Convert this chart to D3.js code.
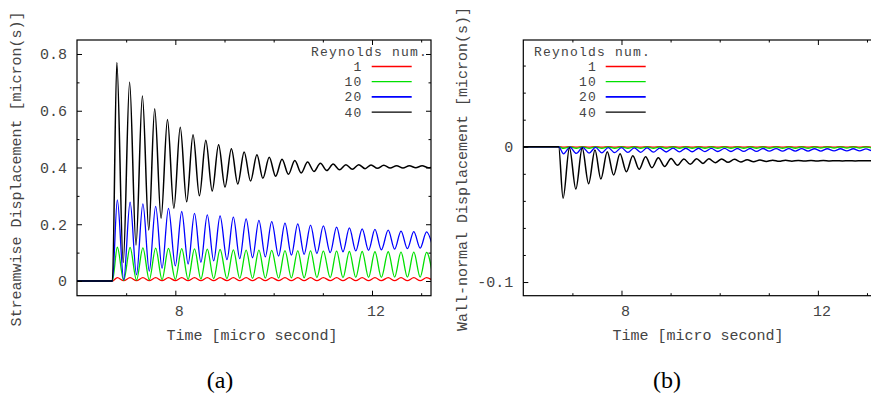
<!DOCTYPE html>
<html>
<head>
<meta charset="utf-8">
<script src="https://cdn.jsdelivr.net/npm/d3@7"></script>
<style>
  body { margin: 0; background: #fff; }
  svg text { font-family: "Liberation Mono", "Courier New", monospace; }
  .axis text { font-size: 15px; fill: #444; }
  .axis line { stroke: #000; }
  .title { font-size: 15px; fill: #444; }
  .legend text { font-size: 13px; letter-spacing: 1.2px; fill: #444; }
  .caption { font-family: "Liberation Serif", "Times New Roman", serif !important; font-size: 24px; fill: #000; }
</style>
</head>
<body>
<svg id="chart" width="871" height="399"></svg>
<script>
// extremum times (Re 40 and the other three runs)
var timeRe40 = [6.0, 6.72,
    6.81, 6.94, 7.07, 7.20, 7.33, 7.46, 7.58, 7.71, 7.84, 7.97,
    8.10, 8.23, 8.36, 8.49, 8.62, 8.75, 8.88, 9.01, 9.14, 9.27,
    9.40, 9.53, 9.66, 9.78, 9.91, 10.04, 10.17, 10.30, 10.43, 10.56,
    10.69, 10.82, 10.95, 11.08, 11.21, 11.34, 11.47, 11.60, 11.73, 11.86,
    11.98, 12.11, 12.24, 12.37, 12.50, 12.63, 12.76, 12.89, 13.02, 13.15,
    13.28];
var timeOther = [6.0, 6.72,
    6.82, 6.95, 7.08, 7.21, 7.34, 7.47, 7.60, 7.73, 7.86, 8.00,
    8.13, 8.26, 8.39, 8.52, 8.65, 8.78, 8.91, 9.05, 9.18, 9.31,
    9.44, 9.57, 9.70, 9.83, 9.96, 10.10, 10.23, 10.36, 10.49, 10.62,
    10.75, 10.88, 11.01, 11.15, 11.28, 11.41, 11.54, 11.67, 11.80, 11.93,
    12.06, 12.19, 12.33, 12.46, 12.59, 12.72, 12.85, 12.98, 13.11, 13.24];

// (a) streamwise displacement
var streamRe1 = [0, 0,
    0.012, 0.001, 0.012, 0.001, 0.012, 0.001, 0.012, 0.001, 0.012, 0.001,
    0.012, 0.001, 0.012, 0.001, 0.012, 0.001, 0.012, 0.001, 0.012, 0.001,
    0.012, 0.001, 0.012, 0.001, 0.012, 0.001, 0.012, 0.001, 0.012, 0.001,
    0.012, 0.001, 0.012, 0.001, 0.012, 0.001, 0.012, 0.001, 0.012, 0.001,
    0.012, 0.001, 0.012, 0.001, 0.012, 0.001, 0.012, 0.001, 0.012, 0.001];
var streamRe10 = [0, 0,
    0.119, 0.002, 0.118, 0.003, 0.117, 0.004, 0.116, 0.005, 0.115, 0.006,
    0.114, 0.006, 0.113, 0.007, 0.112, 0.008, 0.111, 0.008, 0.110, 0.009,
    0.109, 0.009, 0.109, 0.010, 0.108, 0.010, 0.107, 0.011, 0.106, 0.011,
    0.106, 0.012, 0.105, 0.012, 0.105, 0.012, 0.104, 0.013, 0.104, 0.013,
    0.103, 0.013, 0.103, 0.014, 0.102, 0.014, 0.102, 0.014, 0.101, 0.014];
var streamRe20 = [0, 0,
    0.286, 0.004, 0.278, 0.022, 0.272, 0.035, 0.263, 0.045, 0.256, 0.053,
    0.245, 0.060, 0.238, 0.066, 0.233, 0.071, 0.229, 0.075, 0.225, 0.079,
    0.219, 0.082, 0.214, 0.085, 0.209, 0.088, 0.204, 0.091, 0.201, 0.094,
    0.197, 0.097, 0.194, 0.100, 0.190, 0.103, 0.187, 0.106, 0.184, 0.108,
    0.182, 0.110, 0.179, 0.112, 0.176, 0.114, 0.174, 0.116, 0.173, 0.118];
var streamRe40 = [0, 0,
    0.770, 0.065, 0.700, 0.127, 0.652, 0.180, 0.607, 0.221, 0.569, 0.256,
    0.542, 0.279, 0.515, 0.300, 0.496, 0.317, 0.480, 0.331, 0.466, 0.342,
    0.455, 0.352, 0.445, 0.362, 0.436, 0.369, 0.429, 0.376, 0.425, 0.381,
    0.419, 0.386, 0.415, 0.389, 0.412, 0.392, 0.410, 0.394, 0.410, 0.396,
    0.409, 0.397, 0.408, 0.398, 0.406, 0.398, 0.406, 0.399, 0.406, 0.399,
    0.405];

// (b) wall-normal displacement
var wallRe1 = [0, 0,
    -0.0003, 0, -0.0003, 0, -0.0003, 0, -0.0003, 0, -0.0003, 0,
    -0.0003, 0, -0.0003, 0, -0.0003, 0, -0.0003, 0, -0.0003, 0,
    -0.0003, 0, -0.0003, 0, -0.0003, 0, -0.0003, 0, -0.0003, 0,
    -0.0003, 0, -0.0003, 0, -0.0003, 0, -0.0003, 0, -0.0003, 0,
    -0.0003, 0, -0.0003, 0, -0.0003, 0, -0.0003, 0, -0.0003, 0];
var wallRe10 = [0, 0,
    -0.0012, -0.0001, -0.0012, -0.0001, -0.0012, -0.0001, -0.0012, -0.0001, -0.0012, -0.0001,
    -0.0012, -0.0001, -0.0012, -0.0001, -0.0012, -0.0001, -0.0012, -0.0001, -0.0012, -0.0001,
    -0.0011, -0.0001, -0.0011, -0.0001, -0.0011, -0.0001, -0.0011, -0.0001, -0.0011, -0.0001,
    -0.0011, -0.0001, -0.0011, -0.0001, -0.0011, -0.0001, -0.0011, -0.0001, -0.0011, -0.0001,
    -0.0010, -0.0001, -0.0010, -0.0001, -0.0010, -0.0001, -0.0010, -0.0001, -0.0010, -0.0001];
var wallRe20 = [0, 0,
    -0.0052, -0.0003, -0.0049, -0.0004, -0.0047, -0.0005, -0.0045, -0.0006, -0.0043, -0.0007,
    -0.0042, -0.0008, -0.0041, -0.0009, -0.0040, -0.0010, -0.0039, -0.0010, -0.0038, -0.0011,
    -0.0037, -0.0011, -0.0036, -0.0012, -0.0035, -0.0012, -0.0035, -0.0013, -0.0034, -0.0013,
    -0.0034, -0.0013, -0.0033, -0.0014, -0.0033, -0.0014, -0.0032, -0.0014, -0.0032, -0.0015,
    -0.0032, -0.0015, -0.0031, -0.0015, -0.0031, -0.0015, -0.0031, -0.0016, -0.0030, -0.0016];
var wallRe40 = [0, 0,
    -0.0381, -0.0007, -0.0313, -0.0010, -0.0273, -0.0024, -0.0239, -0.0037, -0.0209, -0.0052,
    -0.0185, -0.0067, -0.0167, -0.0074, -0.0155, -0.0081, -0.0146, -0.0086, -0.0137, -0.0090,
    -0.0130, -0.0088, -0.0123, -0.0089, -0.0118, -0.0090, -0.0115, -0.0093, -0.0113, -0.0096,
    -0.0111, -0.0098, -0.0109, -0.0099, -0.0108, -0.0100, -0.0107, -0.0101, -0.0106, -0.0102,
    -0.0106, -0.0102, -0.0105, -0.0103, -0.0105, -0.0103, -0.0105, -0.0103, -0.0104, -0.0103,
    -0.0104];

var reynolds = ["1", "10", "20", "40"];
var colors = ["#ff0000", "#00e000", "#0000ff", "#000000"];

var xMajorTicks = [8, 12];
var xMinorTicks = [7, 9, 10, 11, 13];
var streamMajorTicks = [0, 0.2, 0.4, 0.6, 0.8];
var streamMinorTicks = [0.1, 0.3, 0.5, 0.7];
var wallMajorTicks = [-0.1, 0];
var wallMinorTicks = [-0.08, -0.06, -0.04, -0.02, 0.02, 0.04, 0.06];

var svg = d3.select("#chart");
svg.append("rect").attr("width", 871).attr("height", 399).attr("fill", "#fff");

function drawPanel(p) {
    var x = d3.scaleLinear().domain([6, 13.2]).range([p.left, p.right]);
    var y = d3.scaleLinear().domain(p.yDomain).range([p.bottom, p.top]);

    svg.append("clipPath")
        .attr("id", "clip-" + p.name)
        .append("rect")
        .attr("x", p.left)
        .attr("y", p.top)
        .attr("width", p.right - p.left)
        .attr("height", p.bottom - p.top);

    var line = d3.line()
        .x(d => x(d[0]))
        .y(d => y(d[1]))
        .curve(d3.curveMonotoneX);

    p.series.forEach(function(s, i) {
        svg.append("path")
            .datum(d3.zip(s.time, s.values))
            .attr("clip-path", "url(#clip-" + p.name + ")")
            .attr("fill", "none")
            .attr("stroke", colors[i])
            .attr("stroke-width", i == 3 ? 1.5 : 1.3)
            .attr("d", line);
    });

    function addAxis(axis, tx, ty, ticks, size, labels) {
        axis.tickValues(ticks).tickSizeInner(-size).tickSizeOuter(0);
        if (labels) axis.tickPadding(p.padding).tickFormat(d => String(d));
        else axis.tickFormat("");
        var g = svg.append("g")
            .attr("class", "axis")
            .attr("transform", `translate(${tx}, ${ty})`)
            .call(axis);
        g.select(".domain").remove();
        return g;
    }

    // bottom and top
    var bx = addAxis(d3.axisBottom(x), 0, p.bottom, xMajorTicks, 5, true);
    bx.selectAll("text").attr("dx", 3.5);
    addAxis(d3.axisBottom(x), 0, p.bottom, xMinorTicks, 2.5, false);
    addAxis(d3.axisTop(x), 0, p.top, xMajorTicks, 5, false);
    addAxis(d3.axisTop(x), 0, p.top, xMinorTicks, 2.5, false);
    // left and right
    addAxis(d3.axisLeft(y), p.left, 0, p.yMajor, 5, true);
    addAxis(d3.axisLeft(y), p.left, 0, p.yMinor, 2.5, false);
    addAxis(d3.axisRight(y), p.right, 0, p.yMajor, 5, false);
    addAxis(d3.axisRight(y), p.right, 0, p.yMinor, 2.5, false);

    svg.append("rect")
        .attr("x", p.left)
        .attr("y", p.top)
        .attr("width", p.right - p.left)
        .attr("height", p.bottom - p.top)
        .attr("fill", "none")
        .attr("stroke", "#000")
        .attr("stroke-width", 1.2);

    svg.append("text")
        .attr("class", "title")
        .attr("text-anchor", "middle")
        .attr("x", p.xTitleX)
        .attr("y", 340)
        .text("Time [micro second]");

    svg.append("text")
        .attr("class", "title")
        .attr("text-anchor", "middle")
        .attr("transform", `translate(${p.yTitleX}, 169) rotate(-90)`)
        .text(p.yTitle);

    // legend
    var lg = svg.append("g").attr("class", "legend");
    lg.append("text")
        .attr("x", p.legend.headX)
        .attr("y", 56)
        .attr("text-anchor", p.legend.headAnchor)
        .text("Reynolds num.");
    reynolds.forEach(function(r, i) {
        var ly = 66.5 + i * 15.2;
        lg.append("text")
            .attr("x", p.legend.numX)
            .attr("y", ly + 4.5)
            .attr("text-anchor", "end")
            .text(r);
        lg.append("line")
            .attr("x1", p.legend.lineX)
            .attr("x2", p.legend.lineX + 40)
            .attr("y1", ly)
            .attr("y2", ly)
            .attr("stroke", colors[i])
            .attr("stroke-width", i == 2 ? 1.8 : 1.3);
    });

    svg.append("text")
        .attr("class", "caption")
        .attr("text-anchor", "middle")
        .attr("x", p.captionX)
        .attr("y", 388)
        .text(p.caption);
}

drawPanel({
    name: "a",
    left: 77, right: 431, top: 40, bottom: 295.7,
    yDomain: [-0.0518, 0.8493],
    yMajor: streamMajorTicks, yMinor: streamMinorTicks,
    padding: 10,
    series: [
        {time: timeOther, values: streamRe1},
        {time: timeOther, values: streamRe10},
        {time: timeOther, values: streamRe20},
        {time: timeRe40, values: streamRe40}
    ],
    xTitleX: 252,
    yTitleX: 21,
    yTitle: "Streamwise Displacement [micron(s)]",
    legend: {headX: 428, headAnchor: "end", numX: 362.5, lineX: 371.7},
    captionX: 220,
    caption: "(a)"
});

drawPanel({
    name: "b",
    left: 523.3, right: 876.8, top: 40, bottom: 295.7,
    yDomain: [-0.1101, 0.0789],
    yMajor: wallMajorTicks, yMinor: wallMinorTicks,
    padding: 10,
    series: [
        {time: timeOther, values: wallRe1},
        {time: timeOther, values: wallRe10},
        {time: timeOther, values: wallRe20},
        {time: timeRe40, values: wallRe40}
    ],
    xTitleX: 698,
    yTitleX: 467,
    yTitle: "Wall-normal Displacement [micron(s)]",
    legend: {headX: 534, headAnchor: "start", numX: 597, lineX: 605.7},
    captionX: 667,
    caption: "(b)"
});
</script>
</body>
</html>
